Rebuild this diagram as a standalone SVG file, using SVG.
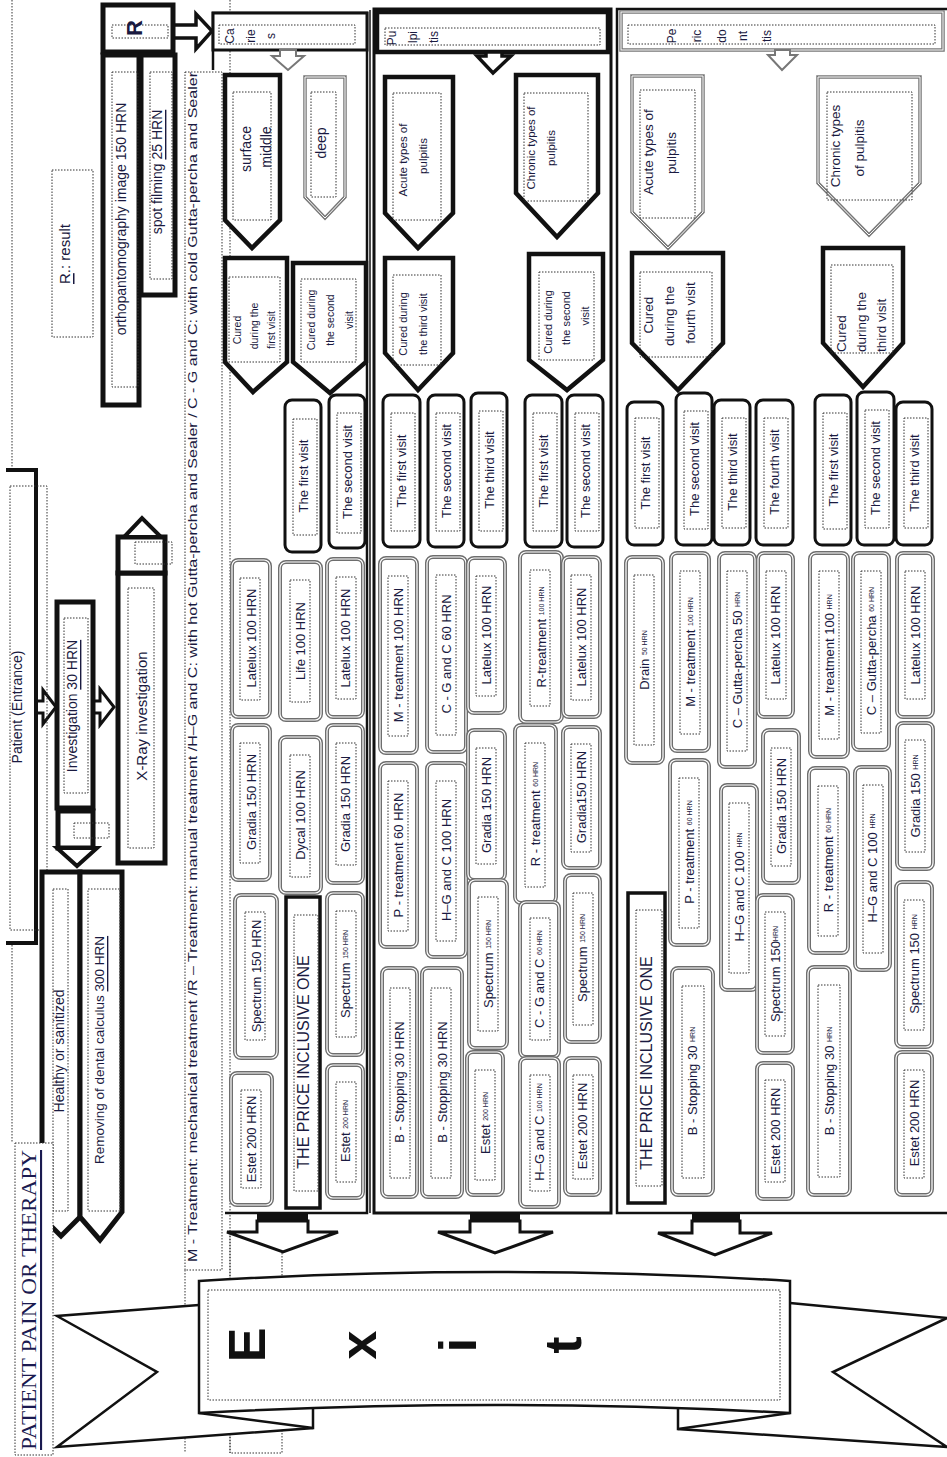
<svg xmlns="http://www.w3.org/2000/svg" width="947" height="1457" viewBox="0 0 947 1457">
<style>
.t{font-family:"Liberation Sans",Arial,sans-serif;font-size:13px;fill:#1a1a40;text-anchor:middle;dominant-baseline:central}
.ts{text-anchor:start}
.m1{fill:#fff;stroke:#6e6e6e;stroke-width:4}
.m2{fill:none;stroke:#fff;stroke-width:1.2}
.vis{fill:#fff;stroke:#111;stroke-width:3}
.thk{fill:#fff;stroke:#111;stroke-width:4.5}
.gry{fill:#fff;stroke:#777;stroke-width:3.5}
.gry2{fill:none;stroke:#fff;stroke-width:1}
.dot{fill:none;stroke:#333;stroke-width:1;stroke-dasharray:1.5 1.5}
.ln{fill:none;stroke:#111;stroke-width:2.5}
.arw{fill:#fff;stroke:#111;stroke-width:3;stroke-linejoin:miter}
.u{text-decoration:underline}
.sm{font-size:7px}
</style>
<rect width="947" height="1457" fill="#fff"/>

<!-- background dotted guides -->
<g id="guides">
<line x1="12" y1="0" x2="12" y2="1143" class="dot"/>
<rect x="185" y="72" width="37" height="1198" class="dot"/>
<line x1="185" y1="1270" x2="185" y2="1453" class="dot"/>
<line x1="230" y1="0" x2="230" y2="1453" class="dot"/>
<rect x="230" y="1233" width="52" height="220" class="dot"/>
</g>

<!-- legend -->
<g id="legend">
<text class="t" x="192" y="667" transform="rotate(-90 192 667)" textLength="1190" lengthAdjust="spacingAndGlyphs">M - Treatment: mechanical treatment /R – Treatment: manual treatment /H–G and C: with hot Gutta-percha and Sealer / C - G and C: with cold Gutta-percha and Sealer</text>
</g>

<g id="result-note">
<rect x="52" y="170" width="41" height="167" class="dot"/>
<text class="t" x="64" y="254" transform="rotate(-90 64 254)" style="font-size:15px"><tspan class="u">R</tspan>.: result</text>
</g>

<!-- connectors -->
<g id="connectors">
<polygon class="arw" points="36,701 43,701 43,690 56,707 43,724 43,713 36,713"/>
<polygon class="arw" points="93,701 100,701 100,689 114,707 100,725 100,713 93,713"/>
<polygon class="arw" style="stroke-width:3.5" points="173,25 196,25 196,14 212,31 196,49 196,38 173,38"/>
<rect x="257" y="1213" width="51" height="8" fill="#111"/>
<polygon class="arw" points="257,1221 257,1232 227,1232 283,1252 338,1232 308,1232 308,1221"/>
<rect x="470" y="1213" width="50" height="8" fill="#111"/>
<polygon class="arw" points="470,1221 470,1232 438,1232 495,1253 553,1232 520,1232 520,1221"/>
<rect x="692" y="1213" width="48" height="8" fill="#111"/>
<polygon class="arw" points="692,1221 692,1233 658,1233 715,1255 772,1233 740,1233 740,1221"/>
</g>

<g id="patient">
<path d="M6,470 H36 V943 H6" fill="#fff" stroke="#111" stroke-width="4"/>
<rect x="10" y="486" width="37" height="444" class="dot"/>
<text class="t" x="17" y="707" transform="rotate(-90 17 707)" style="font-size:14px">Patient (Entrance)</text>
</g>

<g id="investigation">
<rect x="57" y="602" width="36" height="206" class="thk" style="stroke-width:5"/>
<rect x="64" y="618" width="24" height="175" class="dot"/>
<text class="t" x="72" y="706" transform="rotate(-90 72 706)" style="font-size:14px">Investigation <tspan class="u">30 HRN</tspan></text>
<rect x="58" y="811" width="35" height="37" class="thk" style="stroke-width:5"/>
<rect x="74" y="823" width="35" height="15" class="dot"/>
<polygon points="57,848 97,848 77,866" fill="#fff" stroke="#111" stroke-width="4"/>
</g>

<g id="xray">
<rect x="118" y="573" width="47" height="290" class="thk" style="stroke-width:5"/>
<rect x="128" y="588" width="26" height="260" class="dot"/>
<text class="t" x="141" y="716" transform="rotate(-90 141 716)" style="font-size:15px">X-Ray investigation</text>
<rect x="118" y="537" width="47" height="36" class="thk" style="stroke-width:5"/>
<rect x="135" y="542" width="37" height="22" class="dot"/>
<polygon points="124,537 161,537 142,518" fill="#fff" stroke="#111" stroke-width="4"/>
</g>

<g id="R">
<rect x="103" y="5" width="70" height="47" class="thk" style="stroke-width:5"/>
<rect x="112" y="25" width="56" height="13" class="dot"/>
<text class="t" x="134" y="28" transform="rotate(-90 134 28)" style="font-size:22px;font-weight:bold">R</text>
</g>
<g id="ortho">
<rect x="103" y="55" width="36" height="350" class="thk" style="stroke-width:5"/>
<rect x="112" y="72" width="26" height="315" class="dot"/>
<text class="t" x="121" y="219" transform="rotate(-90 121 219)" style="font-size:14px">orthopantomography image 150 HRN</text>
</g>
<g id="spot">
<rect x="141" y="55" width="34" height="240" class="thk" style="stroke-width:5"/>
<rect x="150" y="72" width="22" height="207" class="dot"/>
<text class="t" x="157" y="172" transform="rotate(-90 157 172)" style="font-size:14px">spot filming <tspan class="u">25 HRN</tspan></text>
</g>

<g id="healthy">
<path d="M42,872 H80 V1217 L61,1236 L42,1217 Z" fill="#fff" stroke="#111" stroke-width="5"/>
<rect x="53" y="889" width="15" height="322" class="dot"/>
<text class="t" x="59" y="1051" transform="rotate(-90 59 1051)" style="font-size:14px">Healthy or sanitized</text>
</g>
<g id="removing">
<path d="M80,872 H122 V1212 L100,1240 L80,1217 Z" fill="#fff" stroke="#111" stroke-width="5"/>
<rect x="88" y="889" width="32" height="322" class="dot"/>
<text class="t" x="99" y="1050" transform="rotate(-90 99 1050)" style="font-size:13.5px">Removing of dental calculus <tspan class="u">300 HRN</tspan></text>
</g>

<g id="title">
<rect x="15" y="1143" width="38" height="312" fill="#fff" stroke="#333" stroke-width="1" stroke-dasharray="1.5 1.5"/>
<text x="29" y="1300" transform="rotate(-90 29 1300)" textLength="300" lengthAdjust="spacingAndGlyphs" style="font-family:'Liberation Serif','Times New Roman',serif;font-size:21px;fill:#1a1a50;text-anchor:middle;dominant-baseline:central;text-decoration:underline">PATIENT PAIN OR THERAPY</text>
</g>

<!-- ===== CARIES ===== -->
<g id="caries">
<path class="ln" d="M213,70 V13 H367 V1213 H225"/>
<rect x="213" y="13" width="154" height="37" fill="#fff" stroke="#111" stroke-width="3"/>
<rect x="219" y="25" width="136" height="19" class="dot"/>
<text class="t" x="230" y="36" transform="rotate(-90 230 36)" style="font-size:12px">Ca</text>
<text class="t" x="251" y="36" transform="rotate(-90 251 36)" style="font-size:12px">rie</text>
<text class="t" x="271" y="36" transform="rotate(-90 271 36)" style="font-size:12px">s</text>
<polygon points="280,50 280,56 272,56 288,70 304,56 296,56 296,50" fill="#fff" stroke="#777" stroke-width="2"/>
</g>
<g id="c-surface">
<path class="thk" d="M225,75 H280 V220 L252,248 L225,220 Z"/>
<rect x="233" y="92" width="38" height="128" class="dot"/>
<text class="t" x="246" y="149" transform="rotate(-90 246 149)" style="font-size:14px">surface</text>
<text class="t" x="266" y="147" transform="rotate(-90 266 147)" style="font-size:14px">middle</text>
</g>
<g id="c-deep">
<path class="gry" d="M305,77 H345 V197 L325,218 L305,197 Z"/>
<path class="gry2" d="M305,77 H345 V197 L325,218 L305,197 Z"/>
<rect x="311" y="92" width="25" height="105" class="dot"/>
<text class="t" x="321" y="143" transform="rotate(-90 321 143)" style="font-size:14px">deep</text>
</g>
<g id="c-cured1">
<path class="thk" d="M225,258 H287 V362 L253,392 L225,362 Z"/>
<rect x="229" y="277" width="51" height="85" class="dot"/>
<text class="t" x="237" y="330" transform="rotate(-90 237 330)" style="font-size:10.5px">Cured</text>
<text class="t" x="254" y="326" transform="rotate(-90 254 326)" style="font-size:10.5px">during the</text>
<text class="t" x="271" y="330" transform="rotate(-90 271 330)" style="font-size:10.5px">first visit</text>
</g>
<g id="c-cured2">
<path class="thk" d="M293,263 H366 V362 L330,393 L293,362 Z"/>
<rect x="301" y="279" width="55" height="83" class="dot"/>
<text class="t" x="311" y="320" transform="rotate(-90 311 320)" style="font-size:10.5px">Cured during</text>
<text class="t" x="330" y="320" transform="rotate(-90 330 320)" style="font-size:10.5px">the second</text>
<text class="t" x="349" y="320" transform="rotate(-90 349 320)" style="font-size:10.5px">visit</text>
</g>
<g id="c-v1"><rect class="vis" x="285" y="400" width="36" height="152" rx="7"/><rect x="293" y="419" width="24" height="116" class="dot"/><text class="t" x="303" y="476" transform="rotate(-90 303 476)">The first visit</text></g>
<g id="c-v2"><rect class="vis" x="329" y="395" width="36" height="153" rx="7"/><rect x="337" y="413" width="24" height="120" class="dot"/><text class="t" x="347" y="472" transform="rotate(-90 347 472)">The second visit</text></g>

<g id="c-m1"><rect class="m1" x="232" y="560" width="38" height="157" rx="6"/><rect class="m2" x="232" y="560" width="38" height="157" rx="6"/><rect x="240" y="578" width="20" height="122" class="dot"/><text class="t" x="251" y="638" transform="rotate(-90 251 638)">Latelux 100 HRN</text></g>
<g id="c-m2"><rect class="m1" x="232" y="725" width="38" height="155" rx="6"/><rect class="m2" x="232" y="725" width="38" height="155" rx="6"/><rect x="240" y="743" width="20" height="120" class="dot"/><text class="t" x="251" y="802" transform="rotate(-90 251 802)">Gradia 150 HRN</text></g>
<g id="c-m3"><rect class="m1" x="235" y="895" width="42" height="163" rx="6"/><rect class="m2" x="235" y="895" width="42" height="163" rx="6"/><rect x="245" y="912" width="20" height="128" class="dot"/><text class="t" x="256" y="976" transform="rotate(-90 256 976)">Spectrum 150 HRN</text></g>
<g id="c-m4"><rect class="m1" x="231" y="1073" width="41" height="132" rx="6"/><rect class="m2" x="231" y="1073" width="41" height="132" rx="6"/><rect x="241" y="1090" width="20" height="98" class="dot"/><text class="t" x="251" y="1139" transform="rotate(-90 251 1139)">Estet 200 HRN</text></g>
<g id="c-m5"><rect class="m1" x="280" y="562" width="41" height="158" rx="6"/><rect class="m2" x="280" y="562" width="41" height="158" rx="6"/><rect x="290" y="580" width="20" height="122" class="dot"/><text class="t" x="300" y="641" transform="rotate(-90 300 641)">Life 100 HRN</text></g>
<g id="c-m6"><rect class="m1" x="280" y="737" width="41" height="156" rx="6"/><rect class="m2" x="280" y="737" width="41" height="156" rx="6"/><rect x="290" y="755" width="20" height="122" class="dot"/><text class="t" x="300" y="815" transform="rotate(-90 300 815)">Dycal 100 HRN</text></g>
<g id="c-price"><rect x="286" y="897" width="34" height="311" fill="#fff" stroke="#111" stroke-width="3.5"/><rect x="294" y="915" width="24" height="276" class="dot"/><text class="t" x="303" y="1062" transform="rotate(-90 303 1062)" style="font-size:16px">THE PRICE INCLUSIVE ONE</text></g>
<g id="c-m7"><rect class="m1" x="327" y="559" width="36" height="158" rx="6"/><rect class="m2" x="327" y="559" width="36" height="158" rx="6"/><rect x="336" y="577" width="20" height="122" class="dot"/><text class="t" x="345" y="638" transform="rotate(-90 345 638)">Latelux 100 HRN</text></g>
<g id="c-m8"><rect class="m1" x="327" y="725" width="36" height="158" rx="6"/><rect class="m2" x="327" y="725" width="36" height="158" rx="6"/><rect x="336" y="743" width="20" height="122" class="dot"/><text class="t" x="345" y="804" transform="rotate(-90 345 804)">Gradia 150 HRN</text></g>
<g id="c-m9"><rect class="m1" x="327" y="893" width="36" height="162" rx="6"/><rect class="m2" x="327" y="893" width="36" height="162" rx="6"/><rect x="336" y="911" width="20" height="126" class="dot"/><text class="t" x="345" y="974" transform="rotate(-90 345 974)">Spectrum <tspan class="sm">150 HRN</tspan></text></g>
<g id="c-m10"><rect class="m1" x="327" y="1065" width="36" height="133" rx="6"/><rect class="m2" x="327" y="1065" width="36" height="133" rx="6"/><rect x="336" y="1082" width="20" height="100" class="dot"/><text class="t" x="345" y="1131" transform="rotate(-90 345 1131)">Estet <tspan class="sm">200 HRN</tspan></text></g>

<!-- ===== PULPITIS ===== -->
<g id="pulpitis">
<line x1="370" y1="10" x2="370" y2="1213" stroke="#111" stroke-width="1.5"/>
<rect x="374" y="9" width="237" height="1204" fill="none" stroke="#111" stroke-width="3"/>
<rect x="377" y="12" width="231" height="40" fill="#fff" stroke="#111" stroke-width="4.5"/>
<rect x="385" y="28" width="215" height="17" class="dot"/>
<text class="t" x="392" y="38" transform="rotate(-90 392 38)" style="font-size:12px">Pu</text>
<text class="t" x="413" y="37" transform="rotate(-90 413 37)" style="font-size:12px">lpi</text>
<text class="t" x="434" y="37" transform="rotate(-90 434 37)" style="font-size:12px">tis</text>
<polygon points="486,52 486,56 477,56 493,73 511,56 502,56 502,52" fill="#fff" stroke="#111" stroke-width="3.5"/>
</g>
<g id="p-acute">
<path class="thk" d="M385,77 H453 V213 L418,248 L385,213 Z"/>
<rect x="393" y="93" width="48" height="127" class="dot"/>
<text class="t" x="403" y="160" transform="rotate(-90 403 160)" style="font-size:11.5px">Acute types of</text>
<text class="t" x="423" y="156" transform="rotate(-90 423 156)" style="font-size:11.5px">pulpitis</text>
</g>
<g id="p-chronic">
<path class="thk" d="M516,75 H598 V193 L557,237 L516,193 Z"/>
<rect x="524" y="93" width="64" height="108" class="dot"/>
<text class="t" x="531" y="148" transform="rotate(-90 531 148)" style="font-size:11.5px">Chronic types of</text>
<text class="t" x="551" y="148" transform="rotate(-90 551 148)" style="font-size:11.5px">pulpitis</text>
</g>
<g id="p-cured3">
<path class="thk" d="M385,258 H453 V353 L418,390 L385,353 Z"/>
<rect x="393" y="275" width="48" height="90" class="dot"/>
<text class="t" x="403" y="324" transform="rotate(-90 403 324)" style="font-size:11px">Cured during</text>
<text class="t" x="423" y="324" transform="rotate(-90 423 324)" style="font-size:11px">the third visit</text>
</g>
<g id="p-cured2">
<path class="thk" d="M529,254 H603 V360 L567,390 L529,360 Z"/>
<rect x="539" y="272" width="55" height="88" class="dot"/>
<text class="t" x="548" y="322" transform="rotate(-90 548 322)" style="font-size:11px">Cured during</text>
<text class="t" x="566" y="318" transform="rotate(-90 566 318)" style="font-size:11px">the second</text>
<text class="t" x="585" y="316" transform="rotate(-90 585 316)" style="font-size:11px">visit</text>
</g>
<g id="p-v1"><rect class="vis" x="383" y="395" width="37" height="152" rx="7"/><rect x="391" y="413" width="24" height="118" class="dot"/><text class="t" x="401" y="471" transform="rotate(-90 401 471)">The first visit</text></g>
<g id="p-v2"><rect class="vis" x="428" y="395" width="36" height="152" rx="7"/><rect x="436" y="413" width="24" height="118" class="dot"/><text class="t" x="446" y="471" transform="rotate(-90 446 471)">The second visit</text></g>
<g id="p-v3"><rect class="vis" x="471" y="393" width="36" height="154" rx="7"/><rect x="479" y="411" width="24" height="120" class="dot"/><text class="t" x="489" y="470" transform="rotate(-90 489 470)">The third visit</text></g>
<g id="p-v4"><rect class="vis" x="525" y="395" width="37" height="152" rx="7"/><rect x="533" y="413" width="24" height="118" class="dot"/><text class="t" x="543" y="471" transform="rotate(-90 543 471)">The first visit</text></g>
<g id="p-v5"><rect class="vis" x="567" y="395" width="36" height="152" rx="7"/><rect x="575" y="413" width="24" height="118" class="dot"/><text class="t" x="585" y="471" transform="rotate(-90 585 471)">The second visit</text></g>

<g id="p-m1"><rect class="m1" x="380" y="558" width="37" height="195" rx="6"/><rect class="m2" x="380" y="558" width="37" height="195" rx="6"/><rect x="388" y="576" width="20" height="160" class="dot"/><text class="t" x="398" y="655" transform="rotate(-90 398 655)">M - treatment 100 HRN</text></g>
<g id="p-m2"><rect class="m1" x="380" y="763" width="37" height="184" rx="6"/><rect class="m2" x="380" y="763" width="37" height="184" rx="6"/><rect x="388" y="781" width="20" height="150" class="dot"/><text class="t" x="398" y="855" transform="rotate(-90 398 855)">P - treatment 60 HRN</text></g>
<g id="p-m3"><rect class="m1" x="382" y="968" width="35" height="229" rx="6"/><rect class="m2" x="382" y="968" width="35" height="229" rx="6"/><rect x="390" y="988" width="20" height="190" class="dot"/><text class="t" x="399" y="1082" transform="rotate(-90 399 1082)">B - Stopping 30 HRN</text></g>
<g id="p-m4"><rect class="m1" x="427" y="557" width="39" height="195" rx="6"/><rect class="m2" x="427" y="557" width="39" height="195" rx="6"/><rect x="436" y="575" width="20" height="160" class="dot"/><text class="t" x="446" y="654" transform="rotate(-90 446 654)">C - G and C 60 HRN</text></g>
<g id="p-m5"><rect class="m1" x="427" y="763" width="39" height="194" rx="6"/><rect class="m2" x="427" y="763" width="39" height="194" rx="6"/><rect x="436" y="781" width="20" height="160" class="dot"/><text class="t" x="446" y="860" transform="rotate(-90 446 860)">H–G and C 100 HRN</text></g>
<g id="p-m6"><rect class="m1" x="422" y="968" width="40" height="229" rx="6"/><rect class="m2" x="422" y="968" width="40" height="229" rx="6"/><rect x="431" y="988" width="20" height="190" class="dot"/><text class="t" x="442" y="1082" transform="rotate(-90 442 1082)">B - Stopping 30 HRN</text></g>
<g id="p-m7"><rect class="m1" x="468" y="558" width="37" height="155" rx="6"/><rect class="m2" x="468" y="558" width="37" height="155" rx="6"/><rect x="476" y="576" width="20" height="120" class="dot"/><text class="t" x="486" y="635" transform="rotate(-90 486 635)">Latelux 100 HRN</text></g>
<g id="p-m8"><rect class="m1" x="468" y="730" width="37" height="150" rx="6"/><rect class="m2" x="468" y="730" width="37" height="150" rx="6"/><rect x="476" y="748" width="20" height="116" class="dot"/><text class="t" x="486" y="805" transform="rotate(-90 486 805)">Gradia 150 HRN</text></g>
<g id="p-m9"><rect class="m1" x="469" y="880" width="38" height="168" rx="6"/><rect class="m2" x="469" y="880" width="38" height="168" rx="6"/><rect x="478" y="897" width="20" height="134" class="dot"/><text class="t" x="488" y="964" transform="rotate(-90 488 964)">Spectrum <tspan class="sm">150 HRN</tspan></text></g>
<g id="p-m10"><rect class="m1" x="467" y="1052" width="36" height="143" rx="6"/><rect class="m2" x="467" y="1052" width="36" height="143" rx="6"/><rect x="475" y="1070" width="20" height="110" class="dot"/><text class="t" x="485" y="1123" transform="rotate(-90 485 1123)">Estet <tspan class="sm">200 HRN</tspan></text></g>
<g id="p-m11"><rect class="m1" x="520" y="552" width="42" height="170" rx="6"/><rect class="m2" x="520" y="552" width="42" height="170" rx="6"/><rect x="530" y="570" width="20" height="136" class="dot"/><text class="t" x="541" y="637" transform="rotate(-90 541 637)">R-treatment <tspan class="sm">100 HRN</tspan></text></g>
<g id="p-m12"><rect class="m1" x="515" y="725" width="41" height="178" rx="6"/><rect class="m2" x="515" y="725" width="41" height="178" rx="6"/><rect x="525" y="743" width="20" height="144" class="dot"/><text class="t" x="535" y="814" transform="rotate(-90 535 814)">R - treatment <tspan class="sm">60 HRN</tspan></text></g>
<g id="p-m13"><rect class="m1" x="520" y="902" width="39" height="155" rx="6"/><rect class="m2" x="520" y="902" width="39" height="155" rx="6"/><rect x="530" y="918" width="20" height="122" class="dot"/><text class="t" x="539" y="979" transform="rotate(-90 539 979)">C - G and C <tspan class="sm">60 HRN</tspan></text></g>
<g id="p-m14"><rect class="m1" x="520" y="1058" width="39" height="149" rx="6"/><rect class="m2" x="520" y="1058" width="39" height="149" rx="6"/><rect x="530" y="1075" width="20" height="116" class="dot"/><text class="t" x="539" y="1132" transform="rotate(-90 539 1132)">H–G and C <tspan class="sm">100 HRN</tspan></text></g>
<g id="p-m15"><rect class="m1" x="563" y="557" width="37" height="160" rx="6"/><rect class="m2" x="563" y="557" width="37" height="160" rx="6"/><rect x="571" y="575" width="20" height="125" class="dot"/><text class="t" x="581" y="637" transform="rotate(-90 581 637)">Latelux 100 HRN</text></g>
<g id="p-m16"><rect class="m1" x="563" y="727" width="37" height="141" rx="6"/><rect class="m2" x="563" y="727" width="37" height="141" rx="6"/><rect x="571" y="744" width="20" height="108" class="dot"/><text class="t" x="581" y="797" transform="rotate(-90 581 797)">Gradia150 HRN</text></g>
<g id="p-m17"><rect class="m1" x="565" y="875" width="35" height="167" rx="6"/><rect class="m2" x="565" y="875" width="35" height="167" rx="6"/><rect x="573" y="893" width="20" height="132" class="dot"/><text class="t" x="582" y="958" transform="rotate(-90 582 958)">Spectrum <tspan class="sm">150 HRN</tspan></text></g>
<g id="p-m18"><rect class="m1" x="565" y="1058" width="35" height="137" rx="6"/><rect class="m2" x="565" y="1058" width="35" height="137" rx="6"/><rect x="573" y="1075" width="20" height="104" class="dot"/><text class="t" x="582" y="1126" transform="rotate(-90 582 1126)">Estet 200 HRN</text></g>

<!-- ===== PERIODONTITIS ===== -->
<g id="periodontitis">
<rect x="617" y="9" width="345" height="1204" fill="none" stroke="#111" stroke-width="2.5"/>
<rect x="621" y="12" width="322" height="38" class="gry"/>
<rect x="621" y="12" width="322" height="38" class="gry2"/>
<rect x="628" y="25" width="307" height="19" class="dot"/>
<text class="t" x="672" y="36" transform="rotate(-90 672 36)" style="font-size:12px">Pe</text>
<text class="t" x="697" y="36" transform="rotate(-90 697 36)" style="font-size:12px">ric</text>
<text class="t" x="722" y="36" transform="rotate(-90 722 36)" style="font-size:12px">do</text>
<text class="t" x="743" y="36" transform="rotate(-90 743 36)" style="font-size:12px">nt</text>
<text class="t" x="767" y="36" transform="rotate(-90 767 36)" style="font-size:12px">tis</text>
<polygon points="775,50 775,55 768,55 782,70 797,55 790,55 790,50" fill="#fff" stroke="#777" stroke-width="2"/>
</g>
<g id="d-acute">
<path class="gry" d="M632,76 H703 V212 L668,248 L632,212 Z"/>
<path class="gry2" d="M632,76 H703 V212 L668,248 L632,212 Z"/>
<rect x="640" y="90" width="55" height="128" class="dot"/>
<text class="t" x="648" y="152" transform="rotate(-90 648 152)" style="font-size:13.5px">Acute types of</text>
<text class="t" x="671" y="153" transform="rotate(-90 671 153)" style="font-size:13.5px">pulpitis</text>
</g>
<g id="d-chronic">
<path class="gry" d="M818,77 H920 V183 L869,235 L818,183 Z"/>
<path class="gry2" d="M818,77 H920 V183 L869,235 L818,183 Z"/>
<rect x="827" y="92" width="85" height="108" class="dot"/>
<text class="t" x="835" y="146" transform="rotate(-90 835 146)" style="font-size:13.5px">Chronic types</text>
<text class="t" x="859" y="148" transform="rotate(-90 859 148)" style="font-size:13.5px">of pulpitis</text>
</g>
<g id="d-cured4">
<path class="thk" d="M632,253 H723 V343 L678,390 L632,343 Z"/>
<rect x="640" y="272" width="72" height="85" class="dot"/>
<text class="t" x="648" y="315" transform="rotate(-90 648 315)" style="font-size:13.5px">Cured</text>
<text class="t" x="669" y="316" transform="rotate(-90 669 316)" style="font-size:13.5px">during the</text>
<text class="t" x="690" y="313" transform="rotate(-90 690 313)" style="font-size:13.5px">fourth visit</text>
</g>
<g id="d-cured3">
<path class="thk" d="M823,248 H903 V343 L863,387 L823,343 Z"/>
<rect x="831" y="265" width="62" height="88" class="dot"/>
<text class="t ts" x="841" y="352" transform="rotate(-90 841 352)" style="font-size:13.5px">Cured</text>
<text class="t ts" x="861" y="352" transform="rotate(-90 861 352)" style="font-size:13.5px">during the</text>
<text class="t ts" x="881" y="352" transform="rotate(-90 881 352)" style="font-size:13.5px">third visit</text>
</g>
<g id="d-v1"><rect class="vis" x="627" y="402" width="36" height="143" rx="7"/><rect x="635" y="418" width="24" height="110" class="dot"/><text class="t" x="645" y="473" transform="rotate(-90 645 473)">The first visit</text></g>
<g id="d-v2"><rect class="vis" x="676" y="393" width="36" height="152" rx="7"/><rect x="684" y="411" width="24" height="118" class="dot"/><text class="t" x="694" y="469" transform="rotate(-90 694 469)">The second visit</text></g>
<g id="d-v3"><rect class="vis" x="714" y="400" width="36" height="145" rx="7"/><rect x="722" y="418" width="24" height="110" class="dot"/><text class="t" x="732" y="472" transform="rotate(-90 732 472)">The third visit</text></g>
<g id="d-v4"><rect class="vis" x="756" y="400" width="37" height="145" rx="7"/><rect x="764" y="418" width="24" height="110" class="dot"/><text class="t" x="774" y="472" transform="rotate(-90 774 472)">The fourth visit</text></g>
<g id="d-v5"><rect class="vis" x="815" y="395" width="36" height="150" rx="7"/><rect x="823" y="413" width="24" height="116" class="dot"/><text class="t" x="833" y="470" transform="rotate(-90 833 470)">The first visit</text></g>
<g id="d-v6"><rect class="vis" x="857" y="392" width="37" height="153" rx="7"/><rect x="865" y="410" width="24" height="118" class="dot"/><text class="t" x="875" y="468" transform="rotate(-90 875 468)">The second visit</text></g>
<g id="d-v7"><rect class="vis" x="896" y="402" width="36" height="143" rx="7"/><rect x="904" y="418" width="24" height="110" class="dot"/><text class="t" x="914" y="473" transform="rotate(-90 914 473)">The third visit</text></g>

<g id="d-m1"><rect class="m1" x="626" y="557" width="37" height="206" rx="6"/><rect class="m2" x="626" y="557" width="37" height="206" rx="6"/><rect x="634" y="575" width="20" height="170" class="dot"/><text class="t" x="644" y="660" transform="rotate(-90 644 660)">Drain <tspan class="sm">50 HRN</tspan></text></g>
<g id="d-price"><rect x="628" y="893" width="37" height="310" fill="#fff" stroke="#111" stroke-width="3.5"/><rect x="636" y="910" width="26" height="276" class="dot"/><text class="t" x="646" y="1063" transform="rotate(-90 646 1063)" style="font-size:16px">THE PRICE INCLUSIVE ONE</text></g>
<g id="d-m2"><rect class="m1" x="671" y="553" width="38" height="198" rx="6"/><rect class="m2" x="671" y="553" width="38" height="198" rx="6"/><rect x="680" y="571" width="20" height="163" class="dot"/><text class="t" x="690" y="652" transform="rotate(-90 690 652)">M - treatment <tspan class="sm">100 HRN</tspan></text></g>
<g id="d-m3"><rect class="m1" x="670" y="760" width="39" height="185" rx="6"/><rect class="m2" x="670" y="760" width="39" height="185" rx="6"/><rect x="679" y="778" width="20" height="150" class="dot"/><text class="t" x="689" y="852" transform="rotate(-90 689 852)">P - treatment <tspan class="sm">60 HRN</tspan></text></g>
<g id="d-m4"><rect class="m1" x="672" y="968" width="41" height="227" rx="6"/><rect class="m2" x="672" y="968" width="41" height="227" rx="6"/><rect x="682" y="986" width="22" height="192" class="dot"/><text class="t" x="692" y="1081" transform="rotate(-90 692 1081)">B - Stopping 30 <tspan class="sm">HRN</tspan></text></g>
<g id="d-m5"><rect class="m1" x="719" y="553" width="36" height="214" rx="6"/><rect class="m2" x="719" y="553" width="36" height="214" rx="6"/><rect x="727" y="571" width="20" height="180" class="dot"/><text class="t" x="737" y="660" transform="rotate(-90 737 660)">C – Gutta-percha 50 <tspan class="sm">HRN</tspan></text></g>
<g id="d-m6"><rect class="m1" x="721" y="785" width="36" height="205" rx="6"/><rect class="m2" x="721" y="785" width="36" height="205" rx="6"/><rect x="729" y="803" width="20" height="170" class="dot"/><text class="t" x="739" y="887" transform="rotate(-90 739 887)">H–G and C 100 <tspan class="sm">HRN</tspan></text></g>
<g id="d-m7"><rect class="m1" x="758" y="553" width="35" height="164" rx="6"/><rect class="m2" x="758" y="553" width="35" height="164" rx="6"/><rect x="766" y="571" width="20" height="128" class="dot"/><text class="t" x="775" y="635" transform="rotate(-90 775 635)">Latelux 100 HRN</text></g>
<g id="d-m8"><rect class="m1" x="763" y="730" width="36" height="153" rx="6"/><rect class="m2" x="763" y="730" width="36" height="153" rx="6"/><rect x="771" y="748" width="20" height="118" class="dot"/><text class="t" x="781" y="806" transform="rotate(-90 781 806)">Gradia 150 HRN</text></g>
<g id="d-m9"><rect class="m1" x="757" y="895" width="36" height="158" rx="6"/><rect class="m2" x="757" y="895" width="36" height="158" rx="6"/><rect x="765" y="912" width="20" height="124" class="dot"/><text class="t" x="775" y="974" transform="rotate(-90 775 974)">Spectrum 150<tspan class="sm">HRN</tspan></text></g>
<g id="d-m10"><rect class="m1" x="757" y="1063" width="36" height="136" rx="6"/><rect class="m2" x="757" y="1063" width="36" height="136" rx="6"/><rect x="765" y="1080" width="20" height="102" class="dot"/><text class="t" x="775" y="1131" transform="rotate(-90 775 1131)">Estet 200 HRN</text></g>
<g id="d-m11"><rect class="m1" x="810" y="553" width="38" height="204" rx="6"/><rect class="m2" x="810" y="553" width="38" height="204" rx="6"/><rect x="819" y="571" width="20" height="168" class="dot"/><text class="t" x="829" y="655" transform="rotate(-90 829 655)">M - treatment 100 <tspan class="sm">HRN</tspan></text></g>
<g id="d-m12"><rect class="m1" x="809" y="768" width="39" height="185" rx="6"/><rect class="m2" x="809" y="768" width="39" height="185" rx="6"/><rect x="818" y="786" width="20" height="150" class="dot"/><text class="t" x="828" y="860" transform="rotate(-90 828 860)">R - treatment <tspan class="sm">60 HRN</tspan></text></g>
<g id="d-m13"><rect class="m1" x="808" y="967" width="42" height="228" rx="6"/><rect class="m2" x="808" y="967" width="42" height="228" rx="6"/><rect x="818" y="985" width="22" height="192" class="dot"/><text class="t" x="829" y="1081" transform="rotate(-90 829 1081)">B - Stopping 30 <tspan class="sm">HRN</tspan></text></g>
<g id="d-m14"><rect class="m1" x="853" y="553" width="36" height="197" rx="6"/><rect class="m2" x="853" y="553" width="36" height="197" rx="6"/><rect x="861" y="571" width="20" height="162" class="dot"/><text class="t" x="871" y="651" transform="rotate(-90 871 651)">C – Gutta-percha  <tspan class="sm">60 HRN</tspan></text></g>
<g id="d-m15"><rect class="m1" x="855" y="767" width="35" height="203" rx="6"/><rect class="m2" x="855" y="767" width="35" height="203" rx="6"/><rect x="863" y="785" width="20" height="168" class="dot"/><text class="t" x="872" y="868" transform="rotate(-90 872 868)">H–G and C 100 <tspan class="sm">HRN</tspan></text></g>
<g id="d-m16"><rect class="m1" x="897" y="553" width="36" height="164" rx="6"/><rect class="m2" x="897" y="553" width="36" height="164" rx="6"/><rect x="905" y="571" width="20" height="128" class="dot"/><text class="t" x="915" y="635" transform="rotate(-90 915 635)">Latelux 100 HRN</text></g>
<g id="d-m17"><rect class="m1" x="897" y="723" width="36" height="146" rx="6"/><rect class="m2" x="897" y="723" width="36" height="146" rx="6"/><rect x="905" y="740" width="20" height="112" class="dot"/><text class="t" x="915" y="796" transform="rotate(-90 915 796)">Gradia 150 <tspan class="sm">HRN</tspan></text></g>
<g id="d-m18"><rect class="m1" x="896" y="882" width="36" height="165" rx="6"/><rect class="m2" x="896" y="882" width="36" height="165" rx="6"/><rect x="904" y="900" width="20" height="130" class="dot"/><text class="t" x="914" y="964" transform="rotate(-90 914 964)">Spectrum 150 <tspan class="sm">HRN</tspan></text></g>
<g id="d-m19"><rect class="m1" x="896" y="1052" width="36" height="143" rx="6"/><rect class="m2" x="896" y="1052" width="36" height="143" rx="6"/><rect x="904" y="1070" width="20" height="108" class="dot"/><text class="t" x="914" y="1123" transform="rotate(-90 914 1123)">Estet 200 HRN</text></g>

<!-- ===== EXIT ===== -->
<g id="exit">
<path d="M199,1305 L57,1316 L157,1372 L57,1447 L313,1428 L313,1409" fill="#fff" stroke="#111" stroke-width="2.5" stroke-linejoin="miter"/>
<path d="M199,1413 L313,1428" fill="none" stroke="#111" stroke-width="2.5"/>
<path d="M790,1303 L947,1318 L833,1372 L947,1447 L678,1429 L678,1409" fill="#fff" stroke="#111" stroke-width="2.5" stroke-linejoin="miter"/>
<path d="M790,1413 L678,1429" fill="none" stroke="#111" stroke-width="2.5"/>
<path d="M199,1281 Q495,1263 790,1281 V1413 Q495,1397 199,1413 Z" fill="#fff" stroke="#111" stroke-width="2.5"/>
<rect x="208" y="1290" width="572" height="110" class="dot"/>
<text x="247" y="1345" transform="rotate(-90 247 1345)" style="font-family:'Liberation Sans',Arial,sans-serif;font-weight:bold;font-size:52px;fill:#111;text-anchor:middle;dominant-baseline:central">E</text>
<text x="358" y="1345" transform="rotate(-90 358 1345)" style="font-family:'Liberation Sans',Arial,sans-serif;font-weight:bold;font-size:52px;fill:#111;text-anchor:middle;dominant-baseline:central">x</text>
<text x="458" y="1345" transform="rotate(-90 458 1345)" style="font-family:'Liberation Sans',Arial,sans-serif;font-weight:bold;font-size:52px;fill:#111;text-anchor:middle;dominant-baseline:central">i</text>
<text x="563" y="1345" transform="rotate(-90 563 1345)" style="font-family:'Liberation Sans',Arial,sans-serif;font-weight:bold;font-size:52px;fill:#111;text-anchor:middle;dominant-baseline:central">t</text>
</g>
</svg>
